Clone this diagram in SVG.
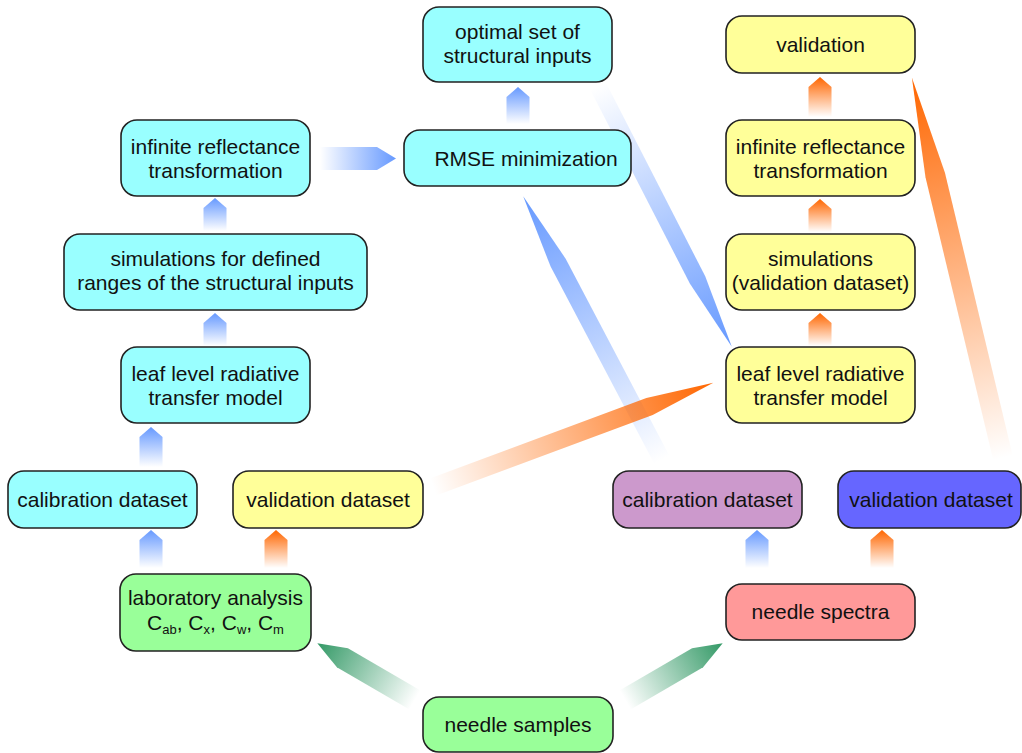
<svg xmlns="http://www.w3.org/2000/svg" width="1022" height="753" viewBox="0 0 1022 753">
<style>
.n rect{stroke:#222;stroke-width:1.6}
.c{fill:#99FFFF}.y{fill:#FFFF99}.g{fill:#99FF99}.p{fill:#FF9999}.v{fill:#CC99CC}.b{fill:#6666FF}
text{font-family:"Liberation Sans",Arial,sans-serif;font-size:21px;fill:#111;text-anchor:middle}
.sub{font-size:13px}
.ab{fill:url(#gB)}.ao{fill:url(#gO)}.ag{fill:url(#gG)}
</style>
<defs>
<linearGradient id="gB" x1="0" y1="0" x2="1" y2="0"><stop offset="0" stop-color="#6699FF" stop-opacity="0"/><stop offset="1" stop-color="#6699FF"/></linearGradient>
<linearGradient id="gO" x1="0" y1="0" x2="1" y2="0"><stop offset="0" stop-color="#FF6600" stop-opacity="0"/><stop offset="1" stop-color="#FF6600"/></linearGradient>
<linearGradient id="gG" x1="0" y1="0" x2="1" y2="0"><stop offset="0" stop-color="#339966" stop-opacity="0"/><stop offset="1" stop-color="#339966"/></linearGradient>
</defs>
<g id="connectors">
<polygon class="ab" transform="translate(151,467) rotate(-90)" points="0,-11.5 30,-11.5 40,0 30,11.5 0,11.5"/>
<polygon class="ab" transform="translate(215,346) rotate(-90)" points="0,-11.5 23,-11.5 33,0 23,11.5 0,11.5"/>
<polygon class="ab" transform="translate(215,231) rotate(-90)" points="0,-11.5 23,-11.5 33,0 23,11.5 0,11.5"/>
<polygon class="ab" transform="translate(151,568) rotate(-90)" points="0,-11.5 28,-11.5 38,0 28,11.5 0,11.5"/>
<polygon class="ao" transform="translate(276,568) rotate(-90)" points="0,-11.5 28,-11.5 38,0 28,11.5 0,11.5"/>
<polygon class="ab" transform="translate(518,124) rotate(-90)" points="0,-11.5 27,-11.5 37,0 27,11.5 0,11.5"/>
<polygon class="ab" transform="translate(757,568) rotate(-90)" points="0,-11.5 28,-11.5 38,0 28,11.5 0,11.5"/>
<polygon class="ao" transform="translate(882,568) rotate(-90)" points="0,-11.5 28,-11.5 38,0 28,11.5 0,11.5"/>
<polygon class="ao" transform="translate(820,346) rotate(-90)" points="0,-11.5 23,-11.5 33,0 23,11.5 0,11.5"/>
<polygon class="ao" transform="translate(820,232) rotate(-90)" points="0,-11.5 23,-11.5 33,0 23,11.5 0,11.5"/>
<polygon class="ao" transform="translate(820,117) rotate(-90)" points="0,-11.5 30,-11.5 40,0 30,11.5 0,11.5"/>
<polygon class="ab" transform="translate(320,158.5)" points="0,-11.5 57,-11.5 76,0 57,11.5 0,11.5"/>
<polygon class="ab" transform="translate(662,460) rotate(-117.76)" points="0,-8.5 223,-8.5 298,0 223,8.5 0,8.5"/>
<polygon class="ab" transform="translate(598,86) rotate(62.83)" points="0,-8.5 218,-8.5 293,0 218,8.5 0,8.5"/>
<polygon class="ao" transform="translate(433,487) rotate(-20.38)" points="0,-9 231,-9 299,0 231,9 0,9"/>
<polygon class="ao" transform="translate(1003,458) rotate(-103.47)" points="0,-10 291,-10 391,0 291,10 0,10"/>
<polygon class="ag" transform="translate(415,700) rotate(-149.8)" points="0,-11 84,-11 113,0 84,11 0,11"/>
<polygon class="ag" transform="translate(625,700) rotate(-30.2)" points="0,-11 84,-11 113,0 84,11 0,11"/>
</g>
<g id="optimal" class="n"><rect class="c" x="423" y="7" width="189" height="75" rx="16"/><text x="517.5" y="39">optimal set of</text><text x="517.5" y="63">structural inputs</text></g>
<g id="rmse" class="n"><rect class="c" x="404" y="130" width="227" height="56" rx="16"/><text x="526" y="165.5">RMSE minimization</text></g>
<g id="inf-cal" class="n"><rect class="c" x="121" y="120" width="189" height="76" rx="16"/><text x="215.5" y="154">infinite reflectance</text><text x="215.5" y="178">transformation</text></g>
<g id="sim-cal" class="n"><rect class="c" x="64" y="234" width="303" height="76" rx="16"/><text x="215.5" y="266">simulations for defined</text><text x="215.5" y="290">ranges of the structural inputs</text></g>
<g id="leaf-cal" class="n"><rect class="c" x="121" y="347" width="189" height="76" rx="16"/><text x="215.5" y="381">leaf level radiative</text><text x="215.5" y="405">transfer model</text></g>
<g id="cal-lab" class="n"><rect class="c" x="8" y="471" width="189" height="57" rx="16"/><text x="102.5" y="507">calibration dataset</text></g>
<g id="val-lab" class="n"><rect class="y" x="233" y="471" width="190" height="57" rx="16"/><text x="328" y="507">validation dataset</text></g>
<g id="lab" class="n"><rect class="g" x="120" y="574" width="191" height="77" rx="16"/><text x="215.5" y="605">laboratory analysis</text><text x="215.5" y="630">C<tspan class="sub" dy="4">ab</tspan><tspan dy="-4">, C</tspan><tspan class="sub" dy="4">x</tspan><tspan dy="-4">, C</tspan><tspan class="sub" dy="4">w</tspan><tspan dy="-4">, C</tspan><tspan class="sub" dy="4">m</tspan></text></g>
<g id="samples" class="n"><rect class="g" x="423" y="697" width="190" height="55" rx="16"/><text x="518" y="732">needle samples</text></g>
<g id="spectra" class="n"><rect class="p" x="726" y="584" width="189" height="56" rx="16"/><text x="820.5" y="619">needle spectra</text></g>
<g id="cal-spec" class="n"><rect class="v" x="613" y="471" width="189" height="57" rx="16"/><text x="707.5" y="507">calibration dataset</text></g>
<g id="val-spec" class="n"><rect class="b" x="838" y="471" width="183" height="57" rx="16"/><text x="931" y="507">validation dataset</text></g>
<g id="leaf-val" class="n"><rect class="y" x="726" y="347" width="189" height="76" rx="16"/><text x="820.5" y="381">leaf level radiative</text><text x="820.5" y="405">transfer model</text></g>
<g id="sim-val" class="n"><rect class="y" x="726" y="234" width="189" height="76" rx="16"/><text x="820.5" y="266">simulations</text><text x="820.5" y="290">(validation dataset)</text></g>
<g id="inf-val" class="n"><rect class="y" x="726" y="120" width="189" height="76" rx="16"/><text x="820.5" y="154">infinite reflectance</text><text x="820.5" y="178">transformation</text></g>
<g id="validation" class="n"><rect class="y" x="726" y="16" width="189" height="57" rx="16"/><text x="820.5" y="52">validation</text></g>
</svg>
